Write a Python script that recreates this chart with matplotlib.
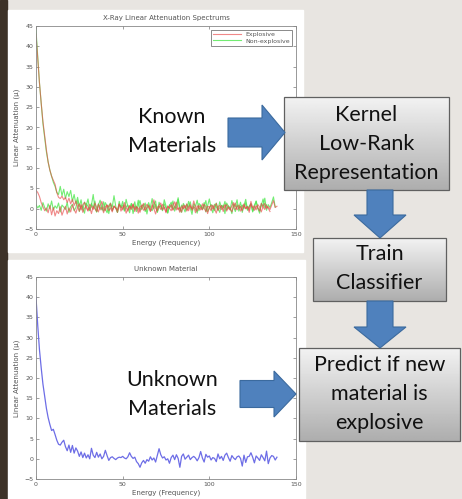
import numpy as np
import matplotlib
matplotlib.use('Agg')
import matplotlib.pyplot as plt
from matplotlib.patches import Rectangle, FancyArrow

# ---- data (x = 0, 1, 2, ... energy bins) ----
explosive_a = [43, 37, 31, 26, 21.5, 18, 14.5, 11.5, 9.5, 8, 7, 6, 4, 2.8,
    2.5, 3.1, 2.2, 2.8, 1.5, 2.6, 1.2, 2.3, 0.8, 1.9, 0.4, 1.2, -0.3, 0.9, 1.6, 0.2,
    -0.6, 1.1, 0.5, -0.2, 1.4, 0.3, -0.8, 0.7, 1.8, 0.1, -0.5, 0.9, 0.4, 1.3, -0.4,
    0.6, 0.2, -0.9, 1.0, 0.5, -0.3, 1.5, 0.3, -0.6, 0.8, 0.1, 1.2, -0.2, 0.6, -1.1,
    0.4, 0.9, -0.4, 0.2, 1.1, 0.5, -0.7, 0.3, 2.2, 0.1, -0.5, 0.8, 1.4, -0.3, 0.4,
    -1.0, 0.7, 0.2, 1.0, -0.4, 0.5, 1.6, -0.2, 0.3, -0.8, 0.9, 0.1, 1.2, -0.5, 0.6,
    0.0, 1.9, 0.4, -0.6, 0.8, 0.2, -0.3, 1.1, 0.5, -1.2, 0.3, 0.9, -0.1, 0.6, 1.3,
    -0.4, 0.2, 0.8, -0.7, 0.5, 1.0, 0.1, -0.3, 0.7, 1.5, -0.2, 0.4, 0.9, -0.6, 0.3,
    1.2, 0.0, 0.6, -0.4, 1.8, 0.2, 0.7, -0.3, 1.0, 0.4, -0.8, 0.6, 1.3, 0.1, 0.5,
    -0.2, 0.9, 2.0, 0.3, 0.6]
explosive_b = [4.5, 4.0, 3.0, 1.5, 0.5, -0.5, 0.2, -1.0, 0.8, -1.5, 0.3, -1.8, -0.5,
    -1.2, 0.5, -1.6, -0.4, 0.6, -1.3, 0.2, -0.8, 0.9, -0.2, -1.1, 0.4, -0.6, 1.0,
    -0.9, 0.1, 0.7, -0.4, 0.3, -1.2, 0.6, 0.0, -0.7, 1.1, -0.3, 0.4, -1.0, 0.5, 0.9,
    -0.5, 0.2, -0.8, 0.7, 0.1, -0.3, 1.2, -0.6, 0.3, 0.8, -1.1, 0.0, 0.6, -0.2, 1.0,
    -0.7, 0.4, 0.1, -0.9, 0.5, 1.3, -0.4, 0.2, 0.7, -0.6, 0.9, 0.0, -1.3, 0.4, 0.6,
    -0.2, 1.1, 0.3, -0.8, 0.5, 0.1, -0.5, 0.9, 1.7, -0.3, 0.2, -0.9, 0.6, 0.0, 0.8,
    -0.6, 0.3, 1.0, -0.4, 0.5, -1.0, 0.7, 0.2, -0.3, 1.2, 0.1, -0.7, 0.6, 0.4, -0.5,
    0.9, 0.0, -1.1, 0.5, 0.8, -0.2, 0.3, 1.0, -0.6, 0.4, 0.1, -0.8, 0.7, 1.4, -0.3,
    0.2, 0.6, -0.5, 0.9, 0.0, 0.5, -0.9, 1.1, 0.3, -0.4, 0.7, 0.2, -0.6, 1.3, 0.4,
    -0.2, 0.8, 0.1, -0.7]
non_explosive_a = [44, 37.5, 31, 26, 21, 17.5, 14, 11.5, 9.5, 8, 6.5, 5.5, 4, 3.5,
    5.5, 3.2, 4.8, 2.5, 4.2, 3.0, 4.5, 1.8, 3.5, 1.2, 2.8, 0.5, 2.2, -0.3, 1.6, 0.8,
    2.4, -0.5, 1.3, 0.2, 1.9, -0.8, 0.9, 2.1, 0.3, -0.6, 1.5, 0.7, -1.2, 1.1, 0.4,
    3.2, 0.6, -0.9, 1.8, 0.2, 0.9, -0.4, 2.3, 0.5, -1.0, 1.2, 0.1, 1.7, -0.7, 0.8,
    2.0, -0.2, 0.6, 1.4, -1.3, 0.9, 0.3, 2.5, 0.0, 1.1, -0.8, 1.6, 0.4, -0.5, 2.2,
    0.7, -1.1, 1.0, 0.3, 1.9, -0.6, 0.8, 2.7, 0.1, -0.9, 1.3, 0.5, -0.3, 1.8, 0.2,
    -1.4, 1.2, 0.6, 2.1, -0.5, 0.9, 0.0, 1.5, -0.8, 0.7, 2.4, 0.3, -1.0, 1.1, 0.5,
    -0.4, 1.7, 0.2, 0.9, -1.2, 1.4, 0.6, -0.3, 2.0, 0.4, -0.7, 1.0, 0.1, 1.6, -0.9,
    0.8, 2.3, -0.2, 0.5, 1.2, -0.6, 0.9, 1.8, 0.0, -1.1, 1.3, 0.6, 2.6, -0.4, 1.0,
    0.3, 1.5, 2.9, 0.4]
non_explosive_b = [1.0, 0.2, 0.8, -0.4, 1.5, 0.3, -0.6, 1.2, 0.0, 1.9, -0.3, 0.7,
    0.1, 1.4, -0.8, 0.9, 0.4, -0.2, 1.6, -0.9, 0.5, 1.1, -0.5, 0.3, 2.0, -0.7, 0.8,
    0.2, -1.1, 1.3, 0.6, -0.4, 0.9, 3.5, 0.1, -0.8, 1.2, 0.4, -0.3, 1.7, 0.0, -1.0,
    0.8, 1.4, -0.5, 0.6, 0.2, -0.9, 1.1, 0.3, 1.8, -0.6, 0.5, 0.9, -0.2, 1.3, -1.2,
    0.7, 0.1, 2.1, -0.4, 0.6, 1.0, -0.7, 0.3, 1.5, 0.0, -0.5, 0.9, 1.9, -0.9, 0.4,
    0.8, -0.3, 1.2, 0.2, -1.0, 0.7, 1.6, -0.2, 0.5, 0.1, 2.3, -0.6, 0.9, 0.3, -0.8,
    1.1, 0.4, 1.7, -0.4, 0.6, 0.0, -1.1, 1.3, 0.8, -0.2, 0.5, 2.0, -0.7, 0.2, 1.0,
    0.6, -0.5, 1.4, 0.1, -0.9, 0.8, 0.3, 1.8, -0.3, 0.7, 0.2, -1.2, 1.1, 0.5, 2.2,
    -0.6, 0.4, 0.9, 0.0, 1.5, -0.4, 0.6, 1.2, -0.8, 0.3, 1.9, 0.1, -0.5, 0.8, 2.4,
    0.2, 1.0]
unknown = [40, 33, 27, 22.5, 18.5, 15.5, 12.5, 10.2, 8.5, 7.0, 7.3, 6.0, 4.6, 3.6,
    3.4, 4.1, 4.6, 3.0, 2.0, 3.4, 1.6, 3.3, 1.4, 2.7, 1.9, 0.6, 1.7, 0.3, 1.4, 0.2,
    1.0, 0.0, 2.6, 0.9, 0.3, 1.6, 0.4, 1.2, 0.0, 0.6, 2.1, 0.8, -0.4, 0.3, 0.5, 0.1,
    -0.2, 0.2, 0.4, 0.3, 0.6, 0.2, 0.0, 0.5, 1.5, 0.6, 0.1, 0.4, -0.7, -1.2, -2.1,
    -1.0, -0.4, -1.1, -0.2, -0.6, 0.5, -0.3, 0.2, -0.8, 0.8, 2.5, 1.0, 0.2, 0.5,
    -0.3, 0.0, -1.1, 0.3, 0.9, -0.2, 1.0, 0.1, -2.1, 0.6, 1.2, -0.1, 0.4, 0.9, -0.2,
    0.3, 0.6, 0.2, -0.5, 0.3, 1.8, 0.2, -0.8, 1.1, 0.4, 0.7, -0.3, 0.3, 0.1, -0.7,
    1.2, 0.0, 0.6, -0.4, 0.9, 1.4, 0.3, -0.6, 0.8, 0.2, -0.2, 0.5, 0.7, 0.1, -1.8,
    0.9, -0.9, 0.5, 0.6, 1.5, 0.4, -1.0, 0.7, 0.2, -0.4, 1.0, 0.3, -0.5, 1.9, -1.2,
    0.2, 0.8, 0.6, -0.3, 0.4]

x_ticks = [0, 50, 100, 150]
y_ticks = list(range(-5, 50, 5))

W, H = 462, 499
BG = '#e8e5e1'
TXT = '#555555'


def px(x0, y0, x1, y1):
    # pixel box -> figure fraction [left, bottom, width, height]
    return [x0 / W, 1 - y1 / H, (x1 - x0) / W, (y1 - y0) / H]


fig = plt.figure(figsize=(W / 100, H / 100), dpi=100)
fig.patch.set_facecolor(BG)

# background decorations
deco = fig.add_axes([0, 0, 1, 1], zorder=0)
deco.set_xlim(0, W)
deco.set_ylim(H, 0)
deco.axis('off')
deco.add_patch(Rectangle((0, 0), 7, H, color='#3d3228'))
deco.add_patch(Rectangle((8, 10), 295, 242, color='white'))
deco.add_patch(Rectangle((8, 260), 297, 239, color='white'))


def spectrum_axes(rect, title):
    ax = fig.add_axes(rect, zorder=1)
    ax.set_xlim(0, 150)
    ax.set_ylim(-5, 45)
    ax.set_xticks(x_ticks)
    ax.set_yticks(y_ticks)
    ax.tick_params(direction='in', length=2.5, width=0.5, labelsize=4.5,
                   colors='#777777', labelcolor=TXT, top=True, right=True, pad=2)
    for s in ax.spines.values():
        s.set_color('#888888')
        s.set_linewidth(0.6)
    ax.set_title(title, fontsize=5, color=TXT, pad=4)
    ax.set_xlabel('Energy (Frequency)', fontsize=5, color=TXT, labelpad=2)
    ax.set_ylabel('Linear Attenuation (\u03bc)', fontsize=5, color=TXT, labelpad=3)
    return ax


ax1 = spectrum_axes(px(36, 26, 296, 229), 'X-Ray Linear Attenuation Spectrums')
ax1.plot(np.arange(len(non_explosive_b)), non_explosive_b, color='#50e850', lw=0.8, alpha=0.8)
ax1.plot(np.arange(len(non_explosive_a)), non_explosive_a, color='#50e850', lw=0.8,
         alpha=0.8, label='Non-explosive')
ax1.plot(np.arange(len(explosive_b)), explosive_b, color='#e84848', lw=0.8, alpha=0.65)
ax1.plot(np.arange(len(explosive_a)), explosive_a, color='#e84848', lw=0.8,
         alpha=0.65, label='Explosive')
h, l = ax1.get_legend_handles_labels()
leg = ax1.legend(h[::-1], l[::-1], loc='upper right', fontsize=4.5, frameon=True,
                 fancybox=False, edgecolor='#555555', handlelength=4.5,
                 borderaxespad=0.6, labelspacing=0.2, borderpad=0.3)
leg.get_frame().set_linewidth(0.6)
for t in leg.get_texts():
    t.set_color(TXT)

ax2 = spectrum_axes(px(36, 277, 296, 479), 'Unknown Material')
ax2.plot(np.arange(len(unknown)), unknown, color='#6d6de6', lw=0.9)

# flow diagram overlay
ov = fig.add_axes([0, 0, 1, 1], zorder=3)
ov.set_xlim(0, W)
ov.set_ylim(H, 0)
ov.axis('off')
ov.patch.set_alpha(0)

FONT = 'Lato'
FS = 15.5
grad = np.linspace(0.95, 0.68, 100).reshape(-1, 1)


def box(x0, y0, x1, y1, lines, cy, step):
    ov.imshow(grad, cmap='gray', vmin=0, vmax=1, aspect='auto',
              extent=(x0, x1, y1, y0), zorder=2, interpolation='bilinear')
    ov.add_patch(Rectangle((x0, y0), x1 - x0, y1 - y0, fill=False,
                           edgecolor='#606060', lw=0.9, zorder=3))
    for i, s in enumerate(lines):
        ov.text((x0 + x1) / 2, cy + i * step, s, ha='center', va='center',
                fontsize=FS, family=FONT, color='#111111', zorder=4)


arrow_kw = dict(facecolor='#4f81bd', edgecolor='#3b6a9e', lw=0.8,
                length_includes_head=True, zorder=5)

box(284, 97, 449, 190, ['Kernel', 'Low-Rank', 'Representation'], 115, 29)
box(313, 238, 446, 301, ['Train', 'Classifier'], 254, 29)
box(299, 348, 460, 441, ['Predict if new', 'material is', 'explosive'], 365, 29)

ov.add_patch(FancyArrow(228, 132.5, 57, 0, width=29, head_width=55, head_length=23, **arrow_kw))
ov.add_patch(FancyArrow(380, 190, 0, 48, width=26, head_width=52, head_length=23, **arrow_kw))
ov.add_patch(FancyArrow(380, 301, 0, 47, width=26, head_width=52, head_length=21, **arrow_kw))
ov.add_patch(FancyArrow(240, 394, 56, 0, width=27, head_width=46, head_length=22, **arrow_kw))

ov.text(172, 117, 'Known', ha='center', va='center', fontsize=FS, family=FONT, color='#111111')
ov.text(172, 146, 'Materials', ha='center', va='center', fontsize=FS, family=FONT, color='#111111')
ov.text(172, 380, 'Unknown', ha='center', va='center', fontsize=FS, family=FONT, color='#111111')
ov.text(172, 409, 'Materials', ha='center', va='center', fontsize=FS, family=FONT, color='#111111')

fig.savefig('out.png', dpi=100, facecolor=fig.get_facecolor())
